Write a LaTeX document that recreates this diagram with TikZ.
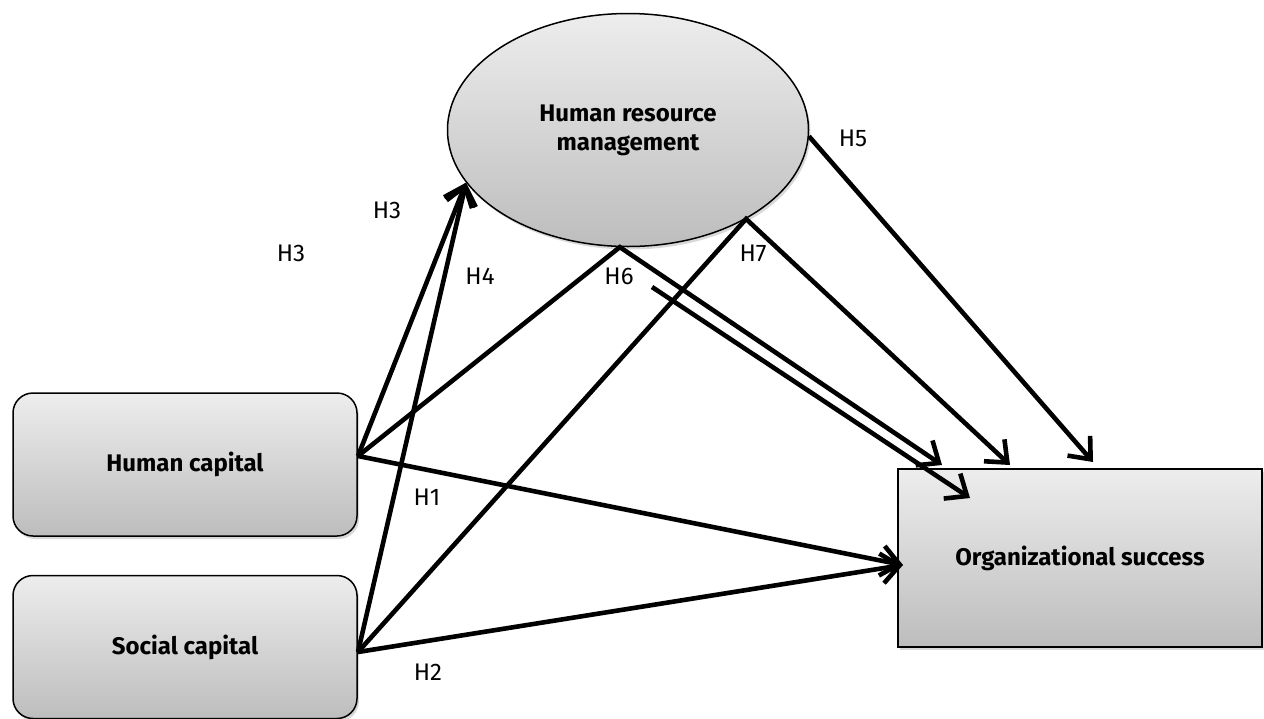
\documentclass[tikz,border=0pt]{standalone}
\usepackage{fontspec}
\setmainfont{Fira Sans}
\usetikzlibrary{arrows.meta,shapes.geometric,shadows}
\definecolor{shadetop}{HTML}{EDEDED}
\definecolor{shadebot}{HTML}{BDBDBD}
\tikzset{
  >={Straight Barb[length=9pt,width=15pt]},
  every node/.style={font=\fontsize{12}{14.5}\selectfont,text=black},
  box/.style={draw=black,line width=0.75pt,top color=shadetop,bottom color=shadebot,align=center,
    drop shadow={opacity=0.3,shadow xshift=1pt,shadow yshift=-1.5pt}},
  capbox/.style={box,rounded corners=10pt,minimum width=172pt,minimum height=71.5pt},
  outbox/.style={box,minimum width=182pt,minimum height=89pt},
  latent/.style={box,ellipse,minimum width=180.5pt,minimum height=116.5pt},
  title/.style={font=\fontsize{12}{14.5}\selectfont\bfseries},
  hyp/.style={inner sep=1pt},
  arrow/.style={->,line width=2.3pt,draw=black},
}

\begin{document}
\begin{tikzpicture}[x=0.5pt,y=-0.5pt]
\useasboundingbox (0,0) rectangle (1264,718);

\node[latent,title] (hrm) at (628,130) {Human resource\\management};
\node[capbox,title] (hc) at (185,464.5) {Human capital};
\node[capbox,title] (sc) at (185,647) {Social capital};
\node[outbox,title] (os) at (1080,558) {Organizational success};

% connector ends
\coordinate (hcout) at (358,456);
\coordinate (scout) at (358,652);
\coordinate (osin) at (903,565);
\coordinate (tip6) at (942,465);
\coordinate (tip7) at (1010,465);
\coordinate (tip5) at (1093,462);
\coordinate (from6) at (652,287);
\coordinate (tipx) at (970,498);

\draw[arrow] (hcout) -- (hrm.198);
\draw[arrow] (scout) -- (hrm.198);
\draw[arrow] (hcout) -- (hrm.-94) -- (tip6);
\draw[arrow] (scout) -- (hrm.-37) -- (tip7);
\draw[arrow] (from6) -- (tipx);
\draw[arrow] (hrm.-2) -- (tip5);
\draw[arrow] (hcout) -- (osin);
\draw[arrow] (scout) -- (osin);

\node[hyp] (h3a) at (387,210) {H3};
\node[hyp] (h3b) at (291,253) {H3};
\node[hyp] (h4) at (480,276) {H4};
\node[hyp] (h6) at (619,276) {H6};
\node[hyp] (h7) at (753,253) {H7};
\node[hyp] (h5) at (853,138) {H5};
\node[hyp] (h1) at (427,497) {H1};
\node[hyp] (h2) at (428,672) {H2};

\end{tikzpicture}
\end{document}
